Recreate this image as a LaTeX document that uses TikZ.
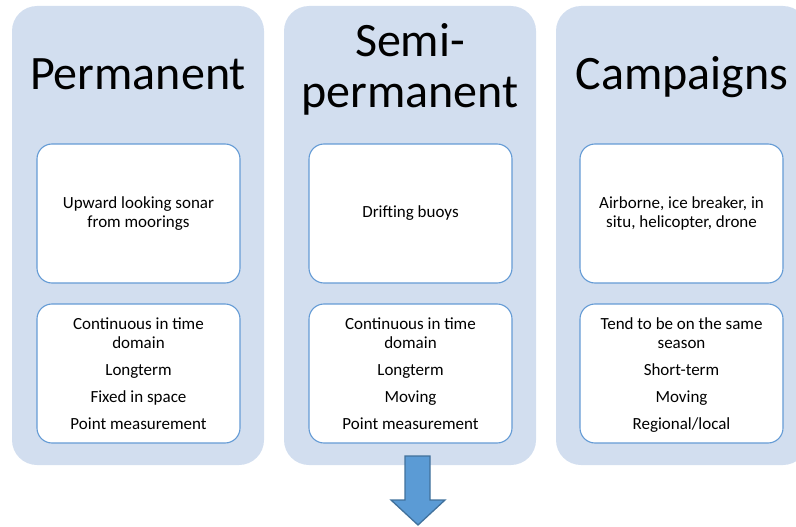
\documentclass[tikz,border=0pt]{standalone}
\usepackage{fontspec}
\setmainfont{Carlito}
\definecolor{panelfill}{RGB}{210,222,239}
\definecolor{boxline}{RGB}{100,155,213}
\definecolor{arrowfill}{RGB}{91,155,213}
\definecolor{arrowline}{RGB}{65,113,156}
\tikzset{
  panel/.style={fill=panelfill, draw=none, rounded corners=25pt},
  title/.style={font=\fontsize{48}{50}\selectfont, anchor=base, inner sep=0pt},
  infobox/.style={draw=boxline, line width=1.1pt, fill=white, rounded corners=15pt,
    minimum width=203pt, minimum height=139pt, inner sep=0pt, align=center,
    font=\fontsize{17}{18.5}\selectfont, text=black},
  infotext/.style={inner sep=0pt, align=center,
    font=\fontsize{17}{18.5}\selectfont, text=black},
}
\begin{document}
\begin{tikzpicture}[x=1pt, y=-1pt]
  \useasboundingbox (0,0) rectangle (796,527);
  \clip (0,0) rectangle (796,527);

  % background panels
  \path[panel] (12,6) rectangle (264,465);
  \path[panel] (284,6) rectangle (536,465);
  \path[panel] (556,6) rectangle (808,465);

  % column titles
  \node[title] (tperm) at (138,89) {Permanent};
  \node[title] (tsemi1) at (410,57) {Semi-};
  \node[title] (tsemi2) at (410,107) {permanent};
  \node[title] (tcamp) at (682,89) {Campaigns};

  % upper boxes
  \node[infobox] (perm1) at (138.5,213.5) {Upward looking sonar\\from moorings};
  \node[infobox] (semi1) at (410.5,213.5) {Drifting buoys};
  \node[infobox] (camp1) at (681.5,213.5) {Airborne, ice breaker, in\\situ, helicopter, drone};

  % lower boxes
  \node[infobox] (perm2) at (138.5,373.5) {Continuous in time\\domain\\[8.5pt]Longterm\\[8.5pt]Fixed in space\\[8.5pt]Point measurement};
  \node[infobox] (semi2) at (410.5,373.5) {Continuous in time\\domain\\[8.5pt]Longterm\\[8.5pt]Moving\\[8.5pt]Point measurement};
  \node[infobox] (camp2) at (681.5,373.5) {};
  \node[infotext] (camp2text) at ([yshift=-1.5pt]camp2.center) {Tend to be on the same\\season\\[8.5pt]Short-term\\[8.5pt]Moving\\[8.5pt]Regional/local};

  % downward block arrow
  \coordinate (atip) at (418,525);
  \draw[fill=arrowfill, draw=arrowline, line width=1.3pt, line join=miter]
    (405,456) -- (430,456) -- (430,500) -- (445,500) -- (atip)
    -- (391,500) -- (405,500) -- cycle;
\end{tikzpicture}
\end{document}
